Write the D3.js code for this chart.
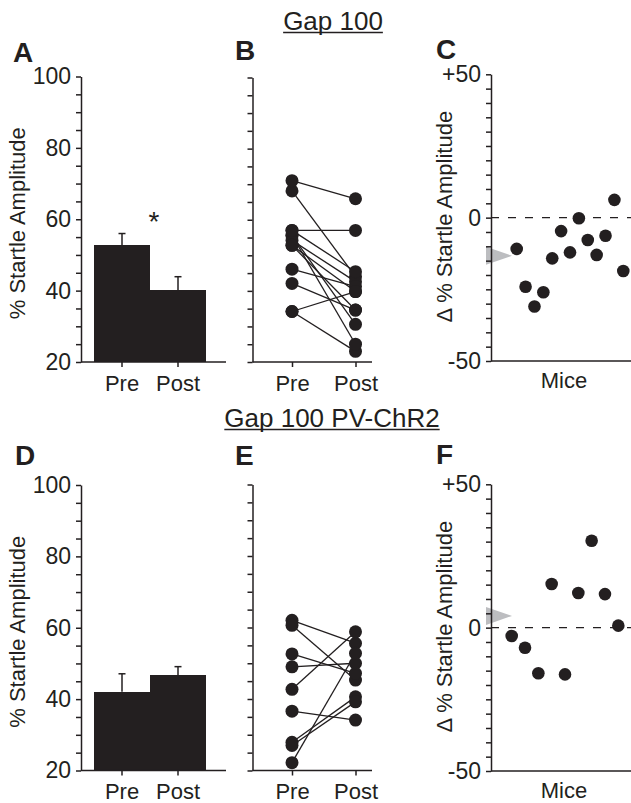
<!DOCTYPE html>
<html>
<head>
<meta charset="utf-8">
<script src="https://cdn.jsdelivr.net/npm/d3@7"></script>
<style>
  body { margin: 0; background: #fff; }
  text { font-family: "Liberation Sans", Arial, sans-serif; fill: #231f20; }
  .axis path, .axis line { stroke: #231f20; stroke-width: 1.5; }
</style>
</head>
<body>
<svg id="fig" width="631" height="803"></svg>
<script>
var conditions = ["Pre", "Post"];
var ampTicks = [20, 40, 60, 80, 100];
var deltaTicks = [-50, 0, 50];

// Gap 100 (top row)
var gapMeans = [52.8, 40.1];
var gapSem = [3.2, 3.8];
var gapPre  = [34.2, 68.1, 55.6, 55.6, 54.2, 71.0, 57.0, 57.0, 42.1, 52.8, 46.1, 34.2, 52.8];
var gapPost = [23.0, 44.0, 25.0, 30.6, 42.6, 65.9, 45.4, 57.0, 34.6, 39.8, 41.2, 39.8, 34.6];
var gapDelta = [-10.9, -24.1, -31.0, -26.0, -14.2, -4.7, -12.1, -0.2, -7.8, -13.0, -6.3, 6.2, -18.6];
var gapMeanDelta = -13.3;

// Gap 100 PV-ChR2 (bottom row)
var pvMeans = [42.1, 46.7];
var pvSem = [5.0, 2.4];
var pvPre  = [62.0, 60.6, 52.6, 49.0, 42.7, 36.6, 27.9, 27.0, 22.2];
var pvPost = [55.6, 45.3, 47.2, 50.0, 58.8, 34.1, 40.6, 39.2, 52.8];
var pvDelta = [-2.9, -7.0, -15.9, 15.2, -16.3, 12.1, 30.3, 11.7, 0.7];
var pvMeanDelta = 4.1;

var ink = "#231f20";
var svg = d3.select("#fig");

function ampAxis(g, y, ax, labels) {
  var a = d3.axisLeft(y)
    .tickValues(d3.range(20, 101, 5))
    .tickFormat(function(d) { return labels && ampTicks.indexOf(d) >= 0 ? d : ""; })
    .tickSize(5).tickPadding(5).tickSizeOuter(0);
  g.append("g").attr("class", "axis")
    .attr("transform", "translate(" + ax + ",0)")
    .call(a)
    .selectAll("text").style("font-size", "23px").attr("font-family", null);
}

function catAxis(g, x, bottom, x0, x1) {
  g.append("line").attr("x1", x0).attr("x2", x1).attr("y1", bottom).attr("y2", bottom)
    .attr("stroke", ink).attr("stroke-width", 1.5);
  var a = d3.axisBottom(x).tickSize(5).tickPadding(8).tickSizeOuter(0);
  var ga = g.append("g").attr("class", "axis")
    .attr("transform", "translate(0," + bottom + ")")
    .call(a);
  ga.select(".domain").remove();
  ga.selectAll("text").style("font-size", "22px").attr("font-family", null);
}

function yLabel(g, txt, x, y) {
  g.append("text")
    .attr("transform", "translate(" + x + "," + y + ") rotate(-90)")
    .attr("text-anchor", "middle")
    .style("font-size", "22px")
    .text(txt);
}

function panelLetter(txt, x, y) {
  svg.append("text").attr("x", x).attr("y", y)
    .style("font-size", "28px").style("font-weight", "bold")
    .text(txt);
}

function barPanel(means, sem, top, bottom) {
  var g = svg.append("g");
  var y = d3.scaleLinear().domain([20, 100]).range([bottom, top]);
  var x = d3.scaleBand().domain(conditions).range([94, 206]);

  g.selectAll("line.err").data(means).join("line")
    .attr("x1", function(d, i) { return x(conditions[i]) + x.bandwidth() / 2; })
    .attr("x2", function(d, i) { return x(conditions[i]) + x.bandwidth() / 2; })
    .attr("y1", function(d) { return y(d); })
    .attr("y2", function(d, i) { return y(d + sem[i]); })
    .attr("stroke", ink).attr("stroke-width", 1.5);
  g.selectAll("line.cap").data(means).join("line")
    .attr("x1", function(d, i) { return x(conditions[i]) + x.bandwidth() / 2 - 3.5; })
    .attr("x2", function(d, i) { return x(conditions[i]) + x.bandwidth() / 2 + 3.5; })
    .attr("y1", function(d, i) { return y(d + sem[i]); })
    .attr("y2", function(d, i) { return y(d + sem[i]); })
    .attr("stroke", ink).attr("stroke-width", 1.5);
  g.selectAll("rect.bar").data(means).join("rect")
    .attr("x", function(d, i) { return x(conditions[i]); })
    .attr("y", function(d) { return y(d); })
    .attr("width", x.bandwidth())
    .attr("height", function(d) { return bottom - y(d); })
    .attr("fill", ink)
    .attr("shape-rendering", "crispEdges");

  ampAxis(g, y, 81, true);
  catAxis(g, x, bottom, 81, 226);
  yLabel(g, "% Startle Amplitude", 25, (top + bottom) / 2 + 4);
  return { g: g, x: x, y: y };
}

function pairPanel(pre, post, top, bottom) {
  var g = svg.append("g");
  var y = d3.scaleLinear().domain([20, 100]).range([bottom, top]);
  var x = d3.scalePoint().domain(conditions).range([292, 355.5]);
  var pairs = pre.map(function(d, i) { return [d, post[i]]; });

  g.selectAll("line.pair").data(pairs).join("line")
    .attr("x1", x("Pre")).attr("x2", x("Post"))
    .attr("y1", function(d) { return y(d[0]); })
    .attr("y2", function(d) { return y(d[1]); })
    .attr("stroke", ink).attr("stroke-width", 1.3);
  g.selectAll("circle.pre").data(pre).join("circle")
    .attr("cx", x("Pre")).attr("cy", function(d) { return y(d); })
    .attr("r", 6.5).attr("fill", ink);
  g.selectAll("circle.post").data(post).join("circle")
    .attr("cx", x("Post")).attr("cy", function(d) { return y(d); })
    .attr("r", 6.5).attr("fill", ink);

  ampAxis(g, y, 252.5, false);
  catAxis(g, x, bottom, 252.5, 372);
}

function deltaPanel(delta, meanDelta, top, bottom, x0, x1) {
  var g = svg.append("g");
  var y = d3.scaleLinear().domain([-50, 50]).range([bottom, top]);
  var x = d3.scalePoint().domain(d3.range(delta.length)).range([x0, x1]);

  g.append("line").attr("x1", 491).attr("x2", 631)
    .attr("y1", y(0)).attr("y2", y(0))
    .attr("stroke", ink).attr("stroke-width", 1.3)
    .attr("stroke-dasharray", "8,9");

  var ty = y(meanDelta);
  g.append("path")
    .attr("d", "M486," + (ty - 9) + "L512," + ty + "L486," + (ty + 9) + "Z")
    .attr("fill", "#bcbdc0");

  g.selectAll("circle.mouse").data(delta).join("circle")
    .attr("cx", function(d, i) { return x(i); })
    .attr("cy", function(d) { return y(d); })
    .attr("r", 6.3).attr("fill", ink);

  var a = d3.axisLeft(y)
    .tickValues(d3.range(-50, 51, 5))
    .tickFormat(function(d) { return deltaTicks.indexOf(d) >= 0 ? (d > 0 ? "+" + d : d) : ""; })
    .tickSize(5).tickPadding(5).tickSizeOuter(0);
  var ga = g.append("g").attr("class", "axis")
    .attr("transform", "translate(491,0)")
    .call(a);
  ga.selectAll("text").style("font-size", "23px").attr("font-family", null);

  g.append("line").attr("x1", 491).attr("x2", 631).attr("y1", bottom).attr("y2", bottom)
    .attr("stroke", ink).attr("stroke-width", 1.5);
  g.append("text").attr("x", 564).attr("y", bottom + 27)
    .attr("text-anchor", "middle").style("font-size", "22px").text("Mice");
  yLabel(g, "\u0394 % Startle Amplitude", 452, (top + bottom) / 2 - 1);
}

function title(txt, cx, baseline) {
  var t = svg.append("text").attr("x", cx).attr("y", baseline)
    .attr("text-anchor", "middle").style("font-size", "26px").text(txt);
  var w = t.node().getComputedTextLength();
  svg.append("line").attr("x1", cx - w / 2).attr("x2", cx + w / 2)
    .attr("y1", baseline + 2.5).attr("y2", baseline + 2.5)
    .attr("stroke", ink).attr("stroke-width", 1.5);
}

// top row
title("Gap 100", 333, 30);
var A = barPanel(gapMeans, gapSem, 76.5, 362);
// significance mark sits just right of the Pre/Post boundary
A.g.append("text")
  .attr("x", A.x("Post") + 4).attr("y", 231)
  .attr("text-anchor", "middle").style("font-size", "28px").text("*");
pairPanel(gapPre, gapPost, 77.5, 362);
deltaPanel(gapDelta, gapMeanDelta, 74.3, 361, 516.7, 623.3);
panelLetter("A", 13, 62);
panelLetter("B", 235, 60);
panelLetter("C", 436, 59);

// bottom row
title("Gap 100 PV-ChR2", 332, 427);
barPanel(pvMeans, pvSem, 485, 770.5);
pairPanel(pvPre, pvPost, 484.5, 770.5);
deltaPanel(pvDelta, pvMeanDelta, 484.3, 771, 511.7, 618.3);
panelLetter("D", 15, 465);
panelLetter("E", 235, 465);
panelLetter("F", 436, 464);
</script>
</body>
</html>
